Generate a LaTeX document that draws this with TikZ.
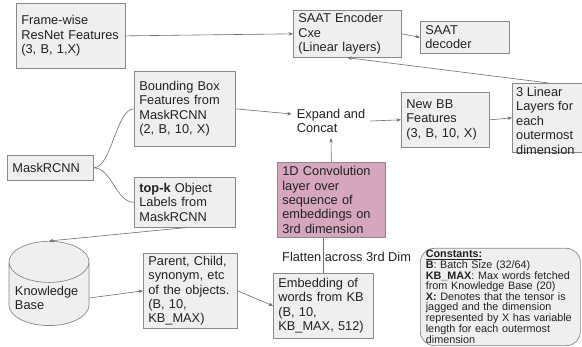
\documentclass[tikz,border=0pt]{standalone}
\usepackage{fontspec}
\setmainfont{Liberation Sans}
\usetikzlibrary{shapes.geometric,arrows.meta}
\definecolor{boxfill}{HTML}{EFEFEF}
\definecolor{boxline}{HTML}{8A8A8A}
\definecolor{conline}{HTML}{6E6E6E}
\definecolor{convfill}{HTML}{D5A6BD}
\definecolor{txt}{HTML}{222222}
\begin{document}
\begin{tikzpicture}[x=1pt,y=-1pt,
  box/.style={draw=boxline, fill=boxfill, line width=0.7pt, inner xsep=5pt, inner ysep=1pt,
    anchor=north west, align=left, text=txt, font=\fontsize{12.8pt}{14.4pt}\selectfont},
  plain/.style={align=left, text=txt, font=\fontsize{12.8pt}{14.4pt}\selectfont},
  conn/.style={draw=conline, line width=0.6pt},
  arr/.style={conn, -{Stealth[length=4.5pt,width=3.5pt]}},
]
\useasboundingbox (0,0) rectangle (582,347);
\fill[white] (0,0) rectangle (582,347);

\node[box, minimum width=109pt, minimum height=65pt, text width=99pt] (resnet) at (16,3)
  {Frame-wise\\ResNet Features\\(3, B, 1,X)};
\node[box, minimum width=108pt, minimum height=47pt, text width=98pt] (enc) at (293,10)
  {SAAT Encoder\\Cxe\\(Linear layers)};
\node[box, minimum width=89pt, minimum height=32pt, text width=79pt] (dec) at (420,21)
  {SAAT\\decoder};
\node[box, minimum width=101pt, minimum height=75pt, text width=91pt] (bb) at (134,71)
  {Bounding Box\\Features from\\MaskRCNN\\(2, B, 10, X)};
\node[box, minimum width=86pt, minimum height=25pt, text width=76pt] (mask) at (7,155)
  {MaskRCNN};
\node[box, minimum width=101pt, minimum height=50pt, text width=91pt] (topk) at (134,177)
  {\textbf{top-k} Object\\Labels from\\MaskRCNN};
\node[plain, inner sep=5pt] (expand) at (331,121) {Expand and\\Concat};
\node[box, minimum width=88pt, minimum height=55pt, text width=78pt] (newbb) at (401,92)
  {New BB\\Features\\(3, B, 10, X)};
\node[box, minimum width=72pt, minimum height=69pt] (lin) at (512,83) {};
\node[plain, anchor=north west, inner sep=0pt] (lintext) at (516,87)
  {3 Linear\\Layers for\\each\\outermost\\dimension};
\node[box, fill=convfill, minimum width=108pt, minimum height=75pt, text width=98pt] (conv) at (277,162)
  {1D Convolution\\layer over\\sequence of\\embeddings on\\3rd dimension};
\node[cylinder, shape border rotate=90, draw=boxline, fill=boxfill, line width=0.7pt, aspect=0.55,
  minimum width=80pt, minimum height=84pt, text width=68pt, plain] (kb) at (49,298)
  {Knowledge\\Base};
\node[box, minimum width=94pt, minimum height=75pt, text width=84pt] (parent) at (143,253)
  {Parent, Child,\\synonym, etc\\of the objects.\\(B, 10,\\KB\_MAX)};
\node[box, minimum width=100pt, minimum height=65pt, text width=90pt] (emb) at (273,273)
  {Embedding of\\words from KB\\(B, 10,\\KB\_MAX, 512)};
\node[plain, anchor=west, inner sep=0pt] (flat) at (282,257) {Flatten across 3rd Dim};
\node[draw=boxline, fill=boxfill, line width=0.7pt, rounded corners=14pt, anchor=north west,
  minimum width=160pt, minimum height=96pt, text width=149pt, inner xsep=5.5pt, inner ysep=2pt,
  align=left, text=txt, font=\fontsize{10.8pt}{9.7pt}\selectfont] (const) at (420,248)
  {\textbf{\underline{Constants:}}\\
   \textbf{B}: Batch Size (32/64)\\
   \textbf{KB\_MAX}: Max words fetched\\
   from Knowledge Base (20)\\
   \textbf{X:} Denotes that the tensor is\\
   jagged and the dimension\\
   represented by X has variable\\
   length for each outermost\\
   dimension};

\draw[arr] (resnet.east) -- (enc.west);
\draw[arr] (enc.east) -- (dec.west);
\draw[arr] (lin.north) -- (enc.south);
\draw[arr] (bb.east) -- ([yshift=7pt]expand.west);
\draw[arr] (expand.east) -- (newbb.west);
\draw[arr] (newbb.east) -- (lin.west);
\draw[arr] (conv.north) -- (expand.south);
\draw[conn] (emb.north) -- (emb.north |- conv.south);
\draw[conn] (mask.east) .. controls +(18,0) and +(-18,0) .. (bb.west);
\draw[conn] (mask.east) .. controls +(18,0) and +(-18,0) .. (topk.west);
\draw[arr] (topk.south) -- (kb.top);
\draw[arr] (kb.east) -- (parent.west);
\draw[arr] (parent.east) -- (emb.west);
\end{tikzpicture}
\end{document}
